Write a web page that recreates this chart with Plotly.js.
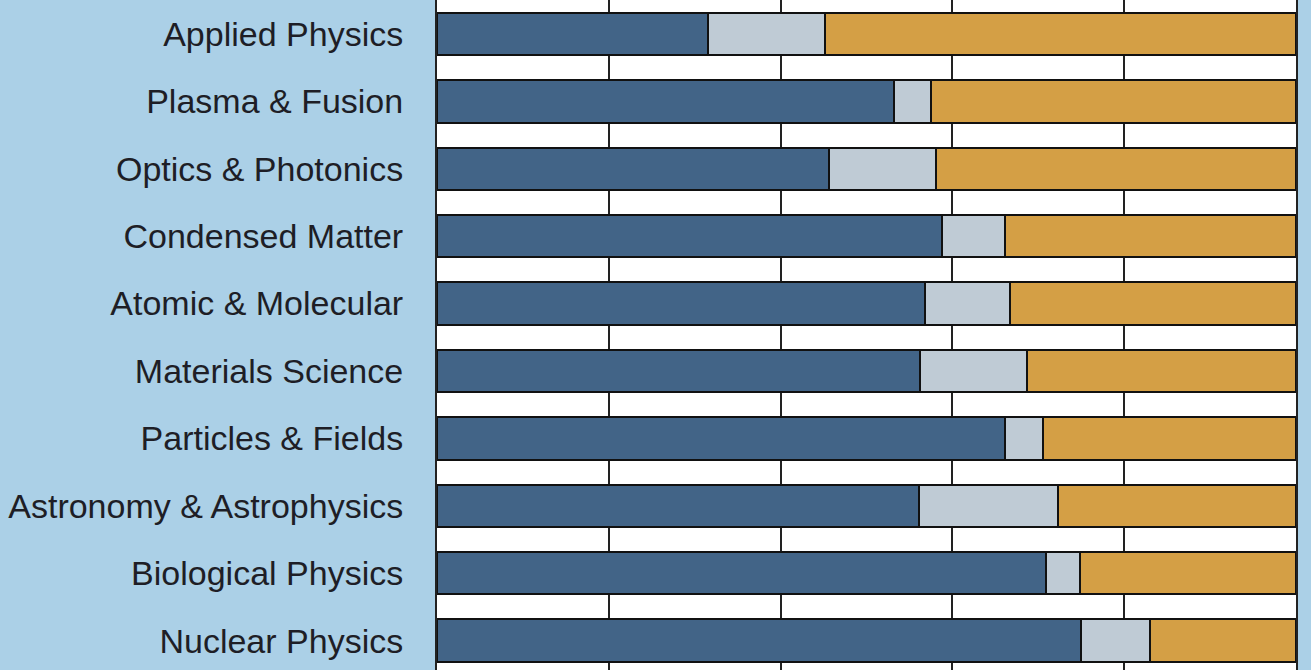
<!DOCTYPE html>
<html>
<head>
<meta charset="utf-8">
<script src="https://cdn.plot.ly/plotly-3.0.1.min.js"></script>
<style>
html,body{margin:0;padding:0;background:#abd0e7;}
#chart{width:1311px;height:670px;}
</style>
</head>
<body>
<div id="chart"></div>
<script>
const categories = ["Applied Physics","Plasma & Fusion","Optics & Photonics","Condensed Matter","Atomic & Molecular","Materials Science","Particles & Fields","Astronomy & Astrophysics","Biological Physics","Nuclear Physics"];
const seriesA = [31.5, 53.2, 45.6, 58.8, 56.8, 56.2, 66.1, 56.1, 70.9, 75.0];
const seriesB = [13.7, 4.3, 12.5, 7.3, 9.9, 12.5, 4.4, 16.2, 4.0, 8.0];
const seriesC = [54.8, 42.5, 41.9, 33.9, 33.3, 31.3, 29.5, 27.7, 25.1, 17.0];

const colors = ["#426487", "#bfcbd5", "#d49f45"];
const series = [seriesA, seriesB, seriesC];
const names = ["A", "B", "C"];

const traces = series.map((vals, i) => ({
  type: "bar",
  orientation: "h",
  name: names[i],
  y: categories,
  x: vals,
  width: 0.63,
  marker: {color: colors[i], line: {color: "#111111", width: 2}},
  hoverinfo: "x+y"
}));

const layout = {
  width: 1311, height: 670,
  barmode: "stack",
  showlegend: false,
  paper_bgcolor: "#abd0e7",
  plot_bgcolor: "#ffffff",
  margin: {l: 437, r: 15, t: 0, b: 0, pad: 0},
  font: {family: "\"Liberation Sans\", Arial, sans-serif", size: 34, color: "#1e1e26"},
  xaxis: {
    range: [0, 100],
    dtick: 20,
    showgrid: true,
    gridcolor: "#222222",
    gridwidth: 2,
    zeroline: false,
    showticklabels: false,
    ticks: ""
  },
  yaxis: {
    type: "category",
    categoryorder: "array",
    categoryarray: categories,
    range: [9.436, -0.504],
    showgrid: false,
    zeroline: false,
    showline: true,
    mirror: true,
    linecolor: "#222222",
    linewidth: 2,
    ticks: "",
    ticklabelstandoff: 25,
    tickfont: {family: "\"Liberation Sans\", Arial, sans-serif", size: 34, color: "#1e1e26"}
  }
};

Plotly.newPlot("chart", traces, layout, {displayModeBar: false, staticPlot: true});
</script>
</body>
</html>
